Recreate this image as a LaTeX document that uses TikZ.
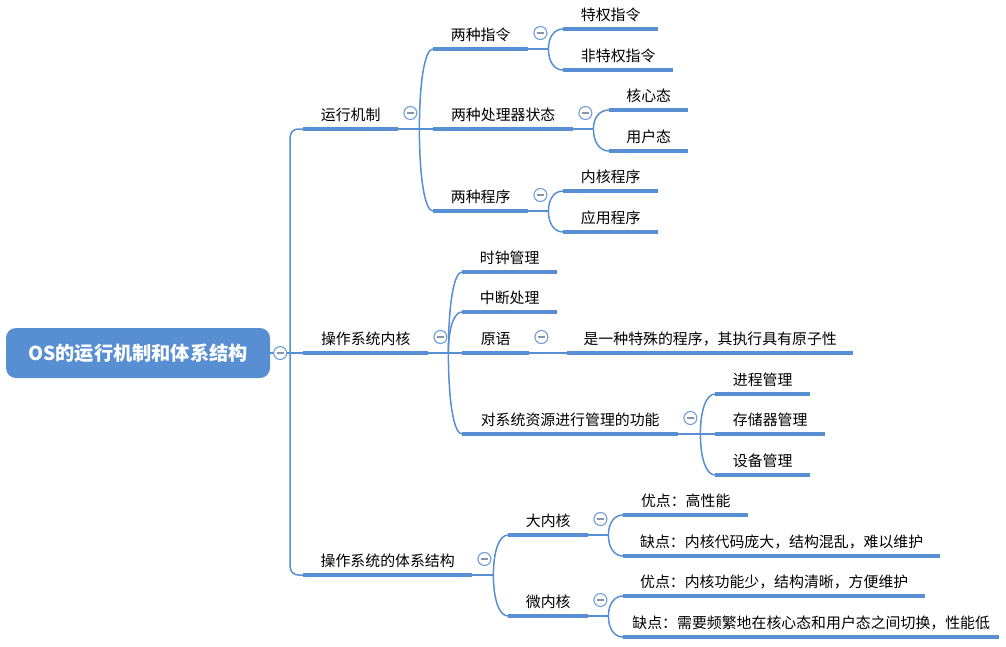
\documentclass[tikz,border=0pt]{standalone}
\usepackage{fontspec}
\setmainfont{Noto Sans CJK SC}
\usetikzlibrary{calc}
\definecolor{mblue}{RGB}{88,142,210}
\definecolor{cblue}{RGB}{112,157,216}
\definecolor{mgray}{RGB}{135,148,170}
\newcommand\jn[2]{\draw[conn] (#1) .. controls ($(#1)!.6!(#1|-#2.south west)$) and ($(#2.south west)!.6!(#1|-#2.south west)$) .. (#2.south west);}
\newcommand\tp[5]{\node[topic, minimum width=#3-#2] (#1) at (#2,#4) {#5};}
\begin{document}
\begin{tikzpicture}[x=1pt,y=-1pt,
  font=\fontsize{14.9}{16}\selectfont,
  topic/.style={anchor=south west, inner xsep=0pt, inner ysep=5pt, text depth=3pt, text height=11pt, text=black},
  uline/.style={draw=mblue, line width=4.2pt},
  conn/.style={draw=mblue, line width=1.5pt},
  rootbox/.style={fill=mblue, rounded corners=10pt, text=white, minimum width=264pt, minimum height=50pt, inner sep=0pt, font=\fontsize{19.2}{22}\selectfont\bfseries},
  tog/.style={circle, draw=cblue, line width=1.1pt, fill=white, minimum size=13pt, inner sep=0pt,
    path picture={\draw[mgray, line width=1.3pt] ([xshift=-3.3pt]path picture bounding box.center) -- ([xshift=3.3pt]path picture bounding box.center);}}
]
\useasboundingbox (0,0) rectangle (1006,646);
% root
\node[rootbox] (root) at (138,353) {OS的运行机制和体系结构};
% level 1
\tp{yx}{303}{398}{129}{运行机制}
\tp{nh}{303}{428}{353}{操作系统内核}
\tp{tx}{303}{472}{575}{操作系统的体系结构}
% level 2
\tp{zl}{433}{528}{49}{两种指令}
\tp{zt}{433}{573}{129}{两种处理器状态}
\tp{cx}{433}{528}{211}{两种程序}
\tp{sz}{462}{557}{272}{时钟管理}
\tp{zd}{462}{557}{312}{中断处理}
\tp{yy}{462}{529}{353}{原语}
\tp{gl}{462}{678}{434}{对系统资源进行管理的功能}
\tp{dn}{508}{588}{535}{大内核}
\tp{wn}{508}{588}{616}{微内核}
% level 3
\tp{tq}{563}{658}{29}{特权指令}
\tp{ftq}{563}{673}{70}{非特权指令}
\tp{hx}{609}{688}{110}{核心态}
\tp{yh}{609}{688}{151}{用户态}
\tp{nc}{563}{658}{191}{内核程序}
\tp{yc}{563}{658}{232}{应用程序}
\tp{yz}{567}{853}{353}{是一种特殊的程序，其执行具有原子性}
\tp{jc}{715}{810}{394}{进程管理}
\tp{cc}{715}{825}{434}{存储器管理}
\tp{sb}{715}{810}{475}{设备管理}
\tp{da}{623}{748}{515}{优点：高性能}
\tp{db}{623}{940}{556}{缺点：内核代码庞大，结构混乱，难以维护}
\tp{wa}{623}{925}{596}{优点：内核功能少，结构清晰，方便维护}
\tp{wb}{623}{999}{637}{缺点：需要频繁地在核心态和用户态之间切换，性能低}
% connectors
\draw[conn] (root.east) -- ++(20,0) coordinate (broot);
\draw[conn, rounded corners=8pt] (broot) |- (yx.south west);
\draw[conn, rounded corners=8pt] (broot) |- (tx.south west);
\draw[conn] (broot) -- (nh.south west);
\draw[conn] (yx.south east) -- ++(21,0) coordinate (byx);
\jn{byx}{zl}\jn{byx}{zt}\jn{byx}{cx}
\draw[conn] (zl.south east) -- ++(20,0) coordinate (bzl);
\jn{bzl}{tq}\jn{bzl}{ftq}
\draw[conn] (zt.south east) -- ++(20,0) coordinate (bzt);
\jn{bzt}{hx}\jn{bzt}{yh}
\draw[conn] (cx.south east) -- ++(20,0) coordinate (bcx);
\jn{bcx}{nc}\jn{bcx}{yc}
\draw[conn] (nh.south east) -- ++(20,0) coordinate (bnh);
\jn{bnh}{sz}\jn{bnh}{zd}\jn{bnh}{yy}\jn{bnh}{gl}
\draw[conn] (yy.south east) -- (yz.south west);
\draw[conn] (gl.south east) -- ++(22,0) coordinate (bgl);
\jn{bgl}{jc}\jn{bgl}{cc}\jn{bgl}{sb}
\draw[conn] (tx.south east) -- ++(21,0) coordinate (btx);
\jn{btx}{dn}\jn{btx}{wn}
\draw[conn] (dn.south east) -- ++(20,0) coordinate (bdn);
\jn{bdn}{da}\jn{bdn}{db}
\draw[conn] (wn.south east) -- ++(20,0) coordinate (bwn);
\jn{bwn}{wa}\jn{bwn}{wb}
% underlines
\foreach \n in {yx,nh,tx,zl,zt,cx,sz,zd,yy,gl,dn,wn,tq,ftq,hx,yh,nc,yc,yz,jc,cc,sb,da,db,wa,wb}
  \draw[uline] (\n.south west) -- (\n.south east);
% toggles
\node[tog] (troot) at ([xshift=10pt]root.east) {};
\foreach \n in {yx,nh,tx,zl,zt,cx,yy,gl,dn,wn}
  \node[tog] (t\n) at ([shift={(12,-16)}]\n.south east) {};
\end{tikzpicture}
\end{document}
